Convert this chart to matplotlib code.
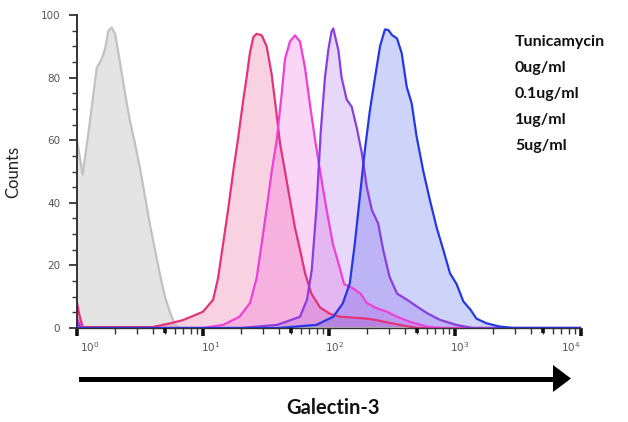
import numpy as np
import matplotlib
matplotlib.use("Agg")
import matplotlib.pyplot as plt
from matplotlib.patches import Polygon, Rectangle
from matplotlib.ticker import FixedLocator, NullFormatter
import matplotlib.transforms as mtransforms

# ---------------- data (log10 of Galectin-3 intensity, counts) ----------------
gray_logx = [0.0, 0.045, 0.103, 0.156, 0.196, 0.222, 0.249, 0.275, 0.302, 0.341, 0.381,
             0.421, 0.46, 0.5, 0.54, 0.579, 0.619, 0.659, 0.698, 0.738, 0.778, 0.82, 4.0]
gray_counts = [60, 49, 66, 83, 86, 89, 95, 96, 94, 85, 75,
               66, 59, 51, 42, 33, 25, 17, 10, 5, 1, 0, 0]

crimson_logx = [0.0, 0.02, 0.045, 0.6, 0.74, 0.84, 0.93, 1.0, 1.08, 1.12, 1.16, 1.2, 1.24,
                1.28, 1.32, 1.346, 1.373, 1.4, 1.426, 1.466, 1.505, 1.545, 1.579, 1.611,
                1.651, 1.69, 1.73, 1.77, 1.81, 1.86, 1.93, 2.01, 2.09, 2.2, 2.3, 2.38,
                2.46, 2.56, 2.7, 4.0]
crimson_counts = [8, 4, 0.3, 0.3, 1.5, 2.5, 4, 5.2, 9, 16, 27, 38, 50,
                  61, 73, 80, 88, 93, 94, 93.5, 90, 81, 70, 59,
                  50, 41, 32, 25, 17.5, 11, 6.5, 4.5, 3.6, 3.3, 3.0, 2.5,
                  1.8, 1, 0, 0]

magenta_logx = [0.0, 0.03, 0.05, 1.0, 1.16, 1.29, 1.373, 1.426, 1.466, 1.505, 1.545, 1.585,
                1.625, 1.651, 1.69, 1.73, 1.77, 1.81, 1.85, 1.89, 1.93, 1.98, 2.03, 2.08,
                2.12, 2.19, 2.25, 2.3, 2.38, 2.46, 2.54, 2.64, 2.78, 2.9, 4.0]
magenta_counts = [3, 0.5, 0, 0, 1, 3.6, 8, 16, 27, 38, 50, 60,
                  75, 86, 91.5, 93.5, 91.5, 83, 71, 60, 50, 38, 27, 20,
                  14, 12.7, 11, 8, 6.3, 5.2, 3.6, 2, 0.4, 0, 0]

purple_logx = [0.0, 0.03, 1.3, 1.59, 1.77, 1.825, 1.863, 1.9, 1.935, 1.968, 1.995, 2.02,
               2.034, 2.074, 2.1, 2.14, 2.18, 2.22, 2.26, 2.3, 2.34, 2.39, 2.43, 2.48,
               2.54, 2.62, 2.7, 2.78, 2.88, 3.01, 3.14, 4.0]
purple_counts = [2, 0, 0, 1, 3.6, 9, 18.5, 38, 63, 80, 89, 94.7,
                 95.7, 88.8, 80, 73, 70.7, 64, 56, 45, 37.7, 33.4, 25, 16.4,
                 11, 9, 6.8, 4.7, 2.6, 1, 0, 0]

blue_logx = [0.0, 1.6, 1.9, 2.034, 2.11, 2.165, 2.205, 2.245, 2.285, 2.325, 2.365, 2.405,
             2.444, 2.471, 2.5, 2.54, 2.577, 2.617, 2.656, 2.696, 2.749, 2.8, 2.855,
             2.907, 2.96, 3.013, 3.066, 3.12, 3.17, 3.25, 3.35, 3.46, 4.0]
blue_counts = [0, 0, 1, 3.6, 7.9, 14.3, 27, 42, 57, 69.6, 80, 90,
               95.4, 95.2, 93.6, 92.5, 87.8, 77, 71.8, 61, 50, 41, 32,
               25, 17.5, 14, 8.5, 6, 3, 1.5, 0.5, 0, 0]

legend_lines = ["Tunicamycin", "0ug/ml", "0.1ug/ml", "1ug/ml", "5ug/ml"]
y_ticks = [0, 20, 40, 60, 80, 100]
x_decades = [1, 10, 100, 1000, 10000]

# ---------------- figure ----------------
W, H = 628, 422
fig = plt.figure(figsize=(W / 100, H / 100), dpi=100)
ax = fig.add_axes([77 / W, 1 - 328 / H, (581 - 77) / W, (328 - 15) / H])

series = [
    (gray_logx, gray_counts, "#c2c2c2", "#e4e4e4", 1.0),
    (crimson_logx, crimson_counts, "#e5337a", "#e5337a", 0.22),
    (magenta_logx, magenta_counts, "#ee40d8", "#ee40d8", 0.22),
    (purple_logx, purple_counts, "#8b3de4", "#8b3de4", 0.2),
    (blue_logx, blue_counts, "#2438e6", "#2438e6", 0.22),
]
for lx, c, lc, fc, a in series:
    x = 10 ** np.asarray(lx)
    ax.fill_between(x, 0, c, color=fc, alpha=a, lw=0, zorder=1)
for lx, c, lc, fc, a in series:
    x = 10 ** np.asarray(lx)
    ax.plot(x, c, color=lc, lw=1.6, zorder=2, solid_joinstyle="round")

ax.set_xscale("log")
ax.set_xlim(1, 1e4)
ax.set_ylim(0, 100)

for s in ["top", "right"]:
    ax.spines[s].set_visible(False)
ax.spines["left"].set_color("#333333")
ax.spines["left"].set_linewidth(1.4)
ax.spines["bottom"].set_color("#333333")
ax.spines["bottom"].set_linewidth(1.0)

# y ticks
ax.set_yticks(y_ticks)
ax.yaxis.set_minor_locator(FixedLocator([v for v in range(0, 101, 5) if v % 20]))
ax.tick_params(axis="y", which="major", length=6, width=1.3, color="#333333",
               labelsize=7.5, labelcolor="#555555", pad=6)
ax.tick_params(axis="y", which="minor", length=3.5, width=1.0, color="#333333")

# x ticks
ax.set_xticks(x_decades)
minors = [m * d for d in x_decades[:-1] for m in range(2, 10)]
ax.xaxis.set_minor_locator(FixedLocator(minors))
ax.xaxis.set_minor_formatter(NullFormatter())
ax.tick_params(axis="x", which="major", length=6, width=2.6, color="#111111",
               labelsize=7.5, labelcolor="#555555", pad=3)
ax.tick_params(axis="x", which="minor", length=4, width=1.0, color="#333333")
# bold ticks at 5 x decade
fives = [5 * d for d in x_decades[:-1]]
for xv in fives:
    ax.plot([xv, xv], [0, -1.6], color="#111111", lw=2.6, clip_on=False, zorder=3,
            solid_capstyle="butt")

offsets = [13, 8, 6, 5, -10]
for lab, dx in zip(ax.get_xticklabels(), offsets):
    lab.set_transform(lab.get_transform() +
                      mtransforms.ScaledTranslation(dx / 100, 0, fig.dpi_scale_trans))

ax.set_ylabel("Counts", fontsize=12, family="Lato", labelpad=14, color="#222222")

# legend text block
for i, t in enumerate(legend_lines):
    fig.text(515 / W, 1 - (42 + 26 * i) / H, t, fontsize=11.5, fontweight="bold",
             family="Lato", va="center", ha="left", color="#111111")

# arrow + axis title in an overlay
ov = fig.add_axes([0, 0, 1, 1], zorder=-1)
ov.set_xlim(0, W)
ov.set_ylim(H, 0)
ov.axis("off")
ov.add_patch(Rectangle((79, 376.5), 476, 5, color="black", lw=0))
ov.add_patch(Polygon([[553, 365], [571, 378.5], [553, 392]], closed=True, color="black", lw=0))
ov.text(333, 408, "Galectin-3", fontsize=14.5, fontweight="bold", family="Lato",
        ha="center", va="center", color="#111111")

fig.savefig("out.png", dpi=100)
